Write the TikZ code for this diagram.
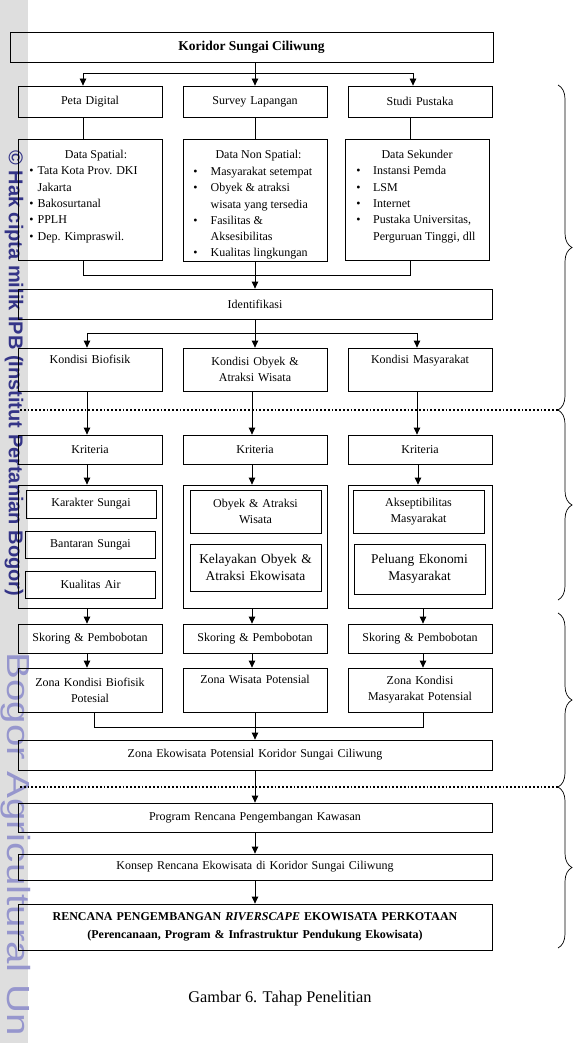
\documentclass[tikz,border=0pt]{standalone}
\usepackage{fontspec}
\setmainfont{Liberation Serif}
\newfontfamily\wmfont{Liberation Sans}
\usetikzlibrary{arrows.meta,decorations.pathreplacing}

\definecolor{wmdark}{RGB}{52,52,135}
\definecolor{wmlight}{RGB}{150,150,205}
\definecolor{stripgray}{RGB}{222,222,222}

\tikzset{
  box/.style={draw, inner sep=0pt, align=center, font=\fontsize{12}{16}\selectfont},
  colbox/.style={box, minimum width=144pt, text width=140pt},
  widebox/.style={box, minimum width=474pt, text width=460pt},
  inbox/.style={box, minimum width=130pt, text width=126pt},
  bigtxt/.style={font=\fontsize{13.4}{17.3}\selectfont},
  listtxt/.style={inner sep=0pt, font=\fontsize{12}{16.3}\selectfont},
  dotline/.style={line width=1.8pt, dash pattern=on 1.8pt off 2pt},
  brc/.style={decorate, decoration={brace, amplitude=14pt}, line width=0.7pt},
}

\begin{document}
\begin{tikzpicture}[x=1pt, y=1pt, line width=0.8pt, >={Triangle[length=7pt,width=6.5pt]}]
    \fill[white] (0,0) rectangle (574,-1043);
    \useasboundingbox (0,0) rectangle (574,-1043);

    % watermark strip
    \fill[stripgray] (0,0) rectangle (28,-1043);
    \node[rotate=-90, anchor=base west, inner sep=0pt, text=wmdark,
          font=\wmfont\bfseries\fontsize{20}{20}\selectfont] (wm1) at (9,-150)
          {© Hak cipta milik IPB (Institut Pertanian Bogor)};
    \node[rotate=-90, xscale=1.26, anchor=base west, inner sep=0pt, text=wmlight,
          font=\wmfont\fontsize{32}{32}\selectfont] (wm2) at (8,-652)
          {Bogor Agricultural Un};

    % top
    \node[box, minimum width=483pt, minimum height=30pt, font=\bfseries\fontsize{13.5}{16}\selectfont] (top) at (251.5,-47) {Koridor Sungai Ciliwung};

    \node[colbox, minimum height=31pt] (pd) at (90,-101.5) {Peta Digital};
    \node[colbox, minimum height=31pt] (sl) at (255,-101.5) {Survey Lapangan};
    \node[colbox, minimum height=31pt] (sp) at (420,-101.5) {Studi Pustaka};

    % data
    \node[colbox, minimum height=121pt] (ds) at (90,-199.5) {};
    \node[colbox, minimum height=122pt] (dn) at (255,-200) {};
    \node[colbox, minimum height=121pt] (dk) at (417,-199.5) {};

    \node[listtxt, anchor=base] (dsh) at (96,-159) {Data Spatial:};
    \node[listtxt, anchor=base] (dnh) at (258.5,-159) {Data Non Spatial:};
    \node[listtxt, anchor=base] (dkh) at (417,-159) {Data Sekunder};

    \node[listtxt, anchor=base west] (dsl) at (29,-175) {\begin{tabular}[t]{@{}l@{\hspace{4pt}}l@{}}
        \textbullet & Tata Kota Prov. DKI\\
                    & Jakarta\\
        \textbullet & Bakosurtanal\\
        \textbullet & PPLH\\
        \textbullet & Dep. Kimpraswil.
      \end{tabular}};
    \begin{scope}
      \clip (dn.south west) rectangle (dn.north east);
      \node[listtxt, anchor=base west] (dnl) at (193,-175.5) {\begin{tabular}[t]{@{}l@{\hspace{13pt}}l@{}}
          \textbullet & Masyarakat setempat\\
          \textbullet & Obyek \& atraksi\\
                      & wisata yang tersedia\\
          \textbullet & Fasilitas \&\\
                      & Aksesibilitas\\
          \textbullet & Kualitas lingkungan
        \end{tabular}};
    \end{scope}
    \node[listtxt, anchor=base west] (dkl) at (356,-175) {\begin{tabular}[t]{@{}l@{\hspace{12.5pt}}l@{}}
        \textbullet & Instansi Pemda\\
        \textbullet & LSM\\
        \textbullet & Internet\\
        \textbullet & Pustaka Universitas,\\
                    & Perguruan Tinggi, dll
      \end{tabular}};

    \node[widebox, minimum height=30pt] (idf) at (255,-304) {Identifikasi};

    % kondisi
    \node[colbox, minimum height=43pt] (kb) at (90,-369.5) {Kondisi Biofisik\\\strut};
    \node[colbox, minimum height=43pt] (ko) at (255,-369.5) {Kondisi Obyek \&\\Atraksi Wisata};
    \node[colbox, minimum height=43pt] (km) at (420,-369.5) {Kondisi Masyarakat\\\strut};

    \node[colbox, minimum height=29pt] (kr1) at (90,-449.5) {Kriteria};
    \node[colbox, minimum height=29pt] (kr2) at (255,-449.5) {Kriteria};
    \node[colbox, minimum height=29pt] (kr3) at (420,-449.5) {Kriteria};

    % kriteria groups
    \node[colbox, minimum height=123pt] (c1) at (90,-546.5) {};
    \node[colbox, minimum height=123pt] (c2) at (255,-546.5) {};
    \node[colbox, minimum height=123pt] (c3) at (420,-546.5) {};

    \node[inbox, minimum height=28pt] (ks) at (91,-504) {Karakter Sungai};
    \node[inbox, minimum height=27pt] (bs) at (90.5,-544.5) {Bantaran Sungai};
    \node[inbox, minimum height=27pt] (ka) at (90.5,-584.5) {Kualitas Air};
    \node[inbox, minimum width=131pt, minimum height=43pt] (oa) at (255.5,-511.5) {Obyek \& Atraksi\\Wisata};
    \node[inbox, bigtxt, minimum width=131pt, minimum height=47pt] (kel) at (255.5,-567.5) {Kelayakan Obyek \&\\Atraksi Ekowisata};
    \node[inbox, minimum width=131pt, minimum height=43pt] (ak) at (418.5,-511.5) {Akseptibilitas\\Masyarakat};
    \node[inbox, bigtxt, minimum width=131pt, minimum height=50pt] (pe) at (419.5,-569) {Peluang Ekonomi\\Masyarakat};

    \node[colbox, minimum height=29pt] (sk1) at (90,-638.5) {Skoring \& Pembobotan};
    \node[colbox, minimum height=29pt] (sk2) at (255,-638.5) {Skoring \& Pembobotan};
    \node[colbox, minimum height=29pt] (sk3) at (420,-638.5) {Skoring \& Pembobotan};

    \node[colbox, minimum height=44pt] (zn1) at (90,-690) {Zona Kondisi Biofisik\\Potesial};
    \node[colbox, minimum height=44pt] (zn2) at (255,-690) {Zona Wisata Potensial\\\strut};
    \node[colbox, minimum height=44pt] (zn3) at (420,-690) {Zona Kondisi\\Masyarakat Potensial};

    \node[widebox, minimum height=30pt] (ze) at (255,-755) {Zona Ekowisata Potensial Koridor Sungai Ciliwung};

    % rencana
    \node[widebox, minimum height=29pt] (prog) at (255,-817.5) {Program Rencana Pengembangan Kawasan};
    \node[widebox, minimum height=26pt] (kon) at (255,-867) {Konsep Rencana Ekowisata di Koridor Sungai Ciliwung};
    \node[widebox, minimum height=46pt, font=\bfseries\fontsize{12}{18.3}\selectfont] (ren) at (255,-927)
      {RENCANA PENGEMBANGAN \textit{RIVERSCAPE} EKOWISATA PERKOTAAN\\(Perencanaan, Program \& Infrastruktur Pendukung Ekowisata)};

    \node[font=\fontsize{16.3}{18}\selectfont] (cap) at (280,-999) {Gambar 6. Tahap Penelitian};

    % connectors
    \draw (top.south -| sl.north) -- ++(0,-11) coordinate (f1);
    \draw[->] (f1) -| ([xshift=-7pt]pd.north);
    \draw[->] (f1) -- (sl.north);
    \draw[->] (f1) -| ([xshift=-7pt]sp.north);

    \draw ([xshift=-7pt]pd.south) -- ([xshift=-7pt]ds.north);
    \draw (sl.south) -- (dn.north);
    \draw ([xshift=-10pt]sp.south) -- ([xshift=-7pt]dk.north);
    \draw ([xshift=-7pt]ds.south) -- ++(0,-15) -| ([xshift=-7pt]dk.south);
    \draw[->] (dn.south) -- (idf.north);

    \draw (idf.south) -- ++(0,-14) coordinate (f2);
    \draw[->] (f2) -| ([xshift=-3pt]kb.north);
    \draw[->] (f2) -- (ko.north);
    \draw[->] (f2) -| ([xshift=-3pt]km.north);

    \draw[->] ([xshift=-3pt]kb.south) -- ([xshift=-3pt]kr1.north);
    \draw[->] ([xshift=-3pt]ko.south) -- ([xshift=-3pt]kr2.north);
    \draw[->] ([xshift=-3pt]km.south) -- ([xshift=-3pt]kr3.north);

    \draw[->] ([xshift=-3pt]kr1.south) -- ([xshift=-3pt]c1.north);
    \draw[->] ([xshift=-3pt]kr2.south) -- ([xshift=-3pt]c2.north);
    \draw[->] ([xshift=-2pt]kr3.south) -- ([xshift=-2pt]c3.north);

    \draw[->] ([xshift=-3pt]c1.south) -- ([xshift=-3pt]sk1.north);
    \draw[->] ([xshift=-3pt]c2.south) -- ([xshift=-3pt]sk2.north);
    \draw[->] ([xshift=3pt]c3.south) -- ([xshift=3pt]sk3.north);

    \draw[->] ([xshift=-3pt]sk1.south) -- ([xshift=-3pt]zn1.north);
    \draw[->] ([xshift=-3pt]sk2.south) -- ([xshift=-3pt]zn2.north);
    \draw[->] ([xshift=3pt]sk3.south) -- ([xshift=3pt]zn3.north);

    \draw ([xshift=4pt]zn1.south) -- ++(0,-15) -| ([xshift=3pt]zn3.south);
    \draw[->] (zn2.south) -- (ze.north);

    \draw[->] (ze.south) -- (prog.north);
    \draw[->] (prog.south) -- (kon.north);
    \draw[->] (kon.south) -- (ren.north);

    % phase borders
    \draw[dotline] (20,-410) -- (558,-410);
    \draw[dotline] (20,-787) -- (558,-787);

    \draw[brc] (558,-85) -- (558,-410);
    \draw[brc] (558,-410) -- (558,-600);
    \draw[brc] (558,-613) -- (558,-787);
    \draw[brc] (558,-787) -- (558,-948);

\end{tikzpicture}
\end{document}
